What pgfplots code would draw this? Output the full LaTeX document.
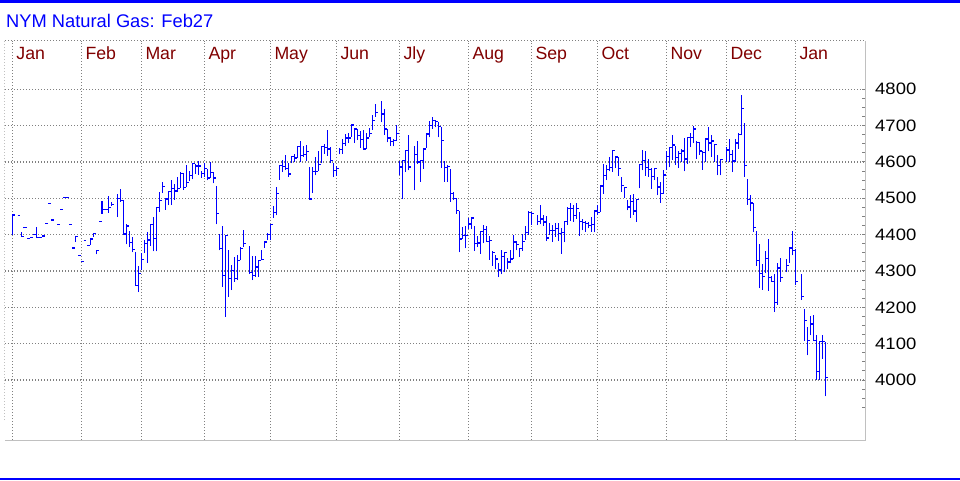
\documentclass[border=0pt]{standalone}
\usepackage{pgfplots}
\pgfplotsset{compat=1.18}
\usepackage{pgfplotstable}
\usepackage{fontspec}
\setmainfont{Liberation Sans}
\newfontfamily\tickfont[FakeStretch=1.12]{Liberation Sans}
\definecolor{monthred}{RGB}{128,0,0}
\definecolor{gridgray}{RGB}{128,128,128}
\definecolor{framegray}{RGB}{192,192,192}
\definecolor{barblue}{RGB}{0,0,255}

% x = horizontal position of the trading day, h = high, l = low, c = close
\pgfplotstableread{
x h l c
12.3 4454 4400 4454
17.7 4453 4453 4453
21.3 4408 4395 4395
24.0 4422 4417 4419
27.0 4390 4390 4390
30.0 4393 4393 4393
33.3 4400 4400 4400
36.3 4420 4393 4393
39.3 4393 4393 4393
42.0 4396 4396 4396
45.3 4431 4431 4431
48.3 4486 4486 4486
51.0 4440 4440 4440
57.0 4428 4428 4428
60.0 4470 4470 4470
63.3 4503 4503 4503
66.0 4503 4503 4503
69.0 4428 4428 4428
72.3 4363 4363 4363
75.3 4395 4380 4394
78.0 4342 4342 4342
81.0 4326 4326 4326
83.7 4384 4384 4384
87.0 4371 4371 4371
90.3 4389 4371 4388
93.3 4404 4394 4404
96.3 4356 4346 4356
99.0 4436 4436 4436
102.0 4493 4458 4469
105.0 4470 4470 4470
108.3 4506 4460 4475
111.3 4489 4480 4482
117.3 4511 4448 4500
120.3 4526 4491 4494
123.3 4494 4402 4402
126.3 4428 4373 4424
129.3 4410 4366 4378
132.3 4394 4351 4360
135.3 4351 4260 4260
138.3 4314 4242 4293
141.3 4349 4303 4332
144.3 4385 4350 4376
147.3 4406 4322 4385
150.3 4428 4369 4428
153.3 4449 4354 4389
156.3 4475 4354 4475
159.3 4517 4463 4493
162.3 4546 4514 4532
165.3 4500 4468 4498
168.3 4520 4481 4519
171.3 4549 4481 4527
174.3 4538 4496 4520
177.3 4560 4517 4526
180.3 4573 4529 4569
183.3 4569 4523 4529
186.3 4593 4531 4543
189.3 4574 4547 4562
192.3 4596 4552 4595
195.3 4595 4567 4589
198.3 4602 4565 4589
201.3 4574 4556 4569
204.3 4596 4560 4581
207.3 4581 4549 4556
210.3 4600 4556 4572
213.3 4572 4541 4556
216.3 4534 4428 4459
219.3 4403 4357 4361
222.3 4425 4256 4288
225.3 4398 4174 4398
228.3 4357 4229 4279
231.3 4316 4247 4302
234.3 4339 4270 4279
237.3 4343 4275 4329
240.3 4366 4329 4361
243.3 4412 4366 4375
249.3 4368 4293 4295
252.3 4340 4275 4288
255.3 4340 4284 4311
258.3 4331 4284 4329
261.3 4357 4329 4331
264.3 4382 4364 4380
267.3 4404 4384 4400
270.3 4428 4384 4428
273.3 4480 4446 4460
276.3 4532 4453 4514
279.3 4593 4551 4590
282.3 4605 4572 4587
285.3 4620 4578 4581
288.3 4598 4560 4567
291.3 4617 4596 4615
294.3 4622 4599 4611
297.3 4645 4611 4642
300.3 4658 4599 4617
303.3 4645 4615 4620
306.3 4648 4604 4629
309.3 4587 4498 4498
312.3 4587 4514 4573
315.3 4613 4563 4574
318.3 4631 4576 4593
321.3 4645 4596 4642
324.3 4650 4622 4640
327.7 4688 4617 4636
330.7 4642 4596 4605
333.3 4596 4558 4577
336.3 4590 4562 4583
339.3 4639 4621 4635
342.3 4664 4623 4650
345.3 4677 4645 4666
348.3 4679 4652 4666
351.3 4702 4670 4702
354.3 4693 4652 4691
357.3 4691 4661 4673
360.3 4685 4639 4661
363.3 4688 4634 4636
366.3 4679 4636 4666
369.3 4694 4668 4679
372.3 4730 4688 4715
375.3 4759 4725 4736
381.3 4768 4709 4732
384.3 4746 4675 4691
387.3 4691 4654 4666
390.3 4668 4645 4657
393.3 4664 4643 4659
396.3 4703 4659 4679
399.3 4604 4563 4586
402.3 4604 4497 4604
405.3 4632 4572 4632
408.3 4673 4577 4586
414.3 4643 4522 4621
417.3 4659 4595 4600
420.3 4606 4545 4604
423.3 4636 4582 4636
426.3 4679 4639 4677
429.3 4714 4668 4700
432.3 4725 4691 4715
435.3 4715 4695 4711
438.3 4709 4668 4697
441.3 4697 4584 4659
444.3 4602 4545 4584
447.3 4591 4545 4588
450.3 4580 4490 4513
453.3 4518 4495 4500
456.3 4500 4457 4466
459.3 4466 4351 4388
462.3 4420 4388 4397
465.3 4424 4362 4397
468.3 4446 4415 4429
471.3 4447 4415 4446
474.3 4424 4355 4375
477.3 4397 4366 4377
480.3 4409 4347 4409
483.3 4427 4377 4415
486.3 4424 4381 4381
489.3 4397 4331 4384
492.3 4354 4315 4351
495.3 4345 4305 4333
498.3 4323 4283 4303
501.3 4357 4291 4339
504.3 4353 4298 4351
507.3 4336 4305 4325
510.3 4357 4321 4333
513.3 4399 4333 4380
516.3 4382 4357 4373
519.3 4364 4339 4362
522.3 4403 4355 4382
525.3 4423 4385 4406
528.3 4465 4400 4461
531.3 4463 4426 4458
537.3 4454 4426 4437
540.3 4481 4428 4443
543.3 4454 4424 4435
546.3 4452 4382 4391
549.3 4431 4399 4412
552.3 4426 4380 4412
555.3 4431 4394 4417
558.3 4431 4382 4403
561.3 4417 4348 4406
564.3 4437 4379 4437
567.3 4476 4426 4472
570.3 4486 4437 4472
573.3 4481 4435 4452
576.3 4486 4444 4472
579.3 4461 4397 4437
582.3 4443 4412 4433
585.3 4437 4408 4431
588.3 4435 4417 4426
591.3 4449 4408 4428
594.3 4467 4406 4465
597.3 4481 4455 4461
600.3 4536 4463 4534
603.3 4595 4513 4563
606.3 4591 4550 4580
609.3 4614 4574 4584
612.3 4632 4573 4632
615.3 4616 4584 4614
618.3 4614 4562 4582
621.3 4559 4518 4536
624.3 4531 4501 4529
627.3 4495 4467 4476
630.3 4508 4446 4492
633.3 4513 4455 4465
636.3 4499 4435 4497
639.3 4595 4527 4593
642.3 4632 4577 4605
645.3 4629 4562 4584
648.3 4609 4559 4580
651.3 4584 4525 4559
654.3 4584 4550 4582
657.3 4559 4508 4531
660.3 4545 4488 4513
663.3 4577 4512 4564
666.3 4629 4578 4615
669.3 4642 4585 4640
672.3 4673 4606 4647
675.3 4645 4592 4612
678.3 4630 4583 4624
681.3 4636 4599 4630
684.3 4665 4574 4608
687.3 4670 4594 4667
690.3 4679 4640 4667
693.3 4700 4652 4691
696.3 4658 4608 4654
699.3 4654 4619 4630
702.3 4630 4578 4627
705.3 4667 4601 4663
708.3 4695 4629 4652
711.3 4674 4615 4658
714.3 4649 4601 4649
717.3 4618 4563 4590
720.3 4608 4563 4606
726.3 4642 4599 4633
729.3 4663 4601 4621
732.3 4633 4572 4603
735.3 4663 4599 4652
738.3 4679 4636 4676
741.3 4783 4673 4748
744.3 4707 4560 4590
747.3 4553 4482 4496
750.3 4508 4465 4487
753.3 4487 4407 4420
756.3 4409 4315 4328
759.3 4374 4253 4294
762.3 4319 4248 4285
765.3 4354 4294 4334
768.3 4388 4245 4282
771.3 4286 4270 4272
774.3 4291 4187 4214
777.3 4322 4207 4308
780.3 4335 4271 4282
786.3 4334 4297 4315
789.3 4367 4322 4363
792.3 4410 4343 4356
795.3 4361 4262 4271
801.3 4291 4221 4230
804.3 4196 4108 4163
807.3 4147 4068 4108
810.3 4175 4123 4154
813.3 4178 4108 4108
816.3 4123 4001 4024
819.3 4108 4001 4106
822.3 4125 4059 4106
825.3 4104 3955 4007
}\bars

\begin{document}
\begin{tikzpicture}
\useasboundingbox (0pt,0pt) rectangle (960pt,480pt);
\fill[barblue] (0pt,477.3pt) rectangle (960pt,480pt);
\fill[barblue] (0pt,0pt) rectangle (960pt,2.5pt);
\node[anchor=base west, inner sep=0pt, text=barblue, font=\fontsize{18.3}{20}\selectfont] at (6pt,452.7pt) {NYM Natural Gas: Feb27};
\begin{axis}[
  at={(5pt,40pt)}, anchor=south west, scale only axis,
  width=860pt, height=399.3pt,
  xmin=5, xmax=865, ymin=3834.9, ymax=4933.7,
  clip=false,
  axis line style={draw=none},
  xtick={12.3,81.3,141.3,204.3,270.3,336.3,399.3,468.3,531.3,597.3,666.3,726.3,795.3},
  xticklabels={Jan,Feb,Mar,Apr,May,Jun,Jly,Aug,Sep,Oct,Nov,Dec,Jan},
  xticklabel pos=upper,
  xticklabel style={anchor=base west, inner sep=0pt, xshift=4pt, yshift=-18.6pt, text=monthred, font=\fontsize{17.7}{18}\selectfont},
  xtick style={draw=none},
  ytick={4000,4100,...,4800},
  minor ytick={3925,3950,...,4775},
  yticklabel pos=right, ytick pos=right,
  tick align=inside,
  /pgf/number format/assume math mode=true,
  yticklabel style={anchor=west, inner sep=0pt, xshift=10pt, font=\tickfont\fontsize{16.5}{17}\selectfont, /pgf/number format/1000 sep={}},
  ytick style={gridgray, line width=1pt},
  major tick length=3pt, minor tick length=3pt,
  grid=major,
  major grid style={gridgray, line width=1.1pt, dash pattern=on 1pt off 2pt},
]
\draw[framegray, line width=1pt] (rel axis cs:0,0) -- (rel axis cs:1,0) -- (rel axis cs:1,1);
\draw[gridgray, line width=1.1pt, dash pattern=on 1pt off 2pt] (rel axis cs:0,1) -- (rel axis cs:1,1);
\draw[framegray, line width=1pt, dash pattern=on 1pt off 2pt] (rel axis cs:0,0.05) -- (rel axis cs:0,1);
\addplot[draw=none, mark=none, forget plot,
  error bars/.cd, y dir=plus, y explicit, error mark=none,
  error bar style={draw=barblue, line width=1.25pt, solid}]
  table[x=x, y=l, y error expr=\thisrow{h}-\thisrow{l}] {\bars};
\addplot[draw=none, mark=none, forget plot,
  error bars/.cd, x dir=plus, x fixed=2.7, error mark=none,
  error bar style={draw=barblue, line width=1.25pt, solid}]
  table[x=x, y=c] {\bars};
\end{axis}
\end{tikzpicture}
\end{document}
